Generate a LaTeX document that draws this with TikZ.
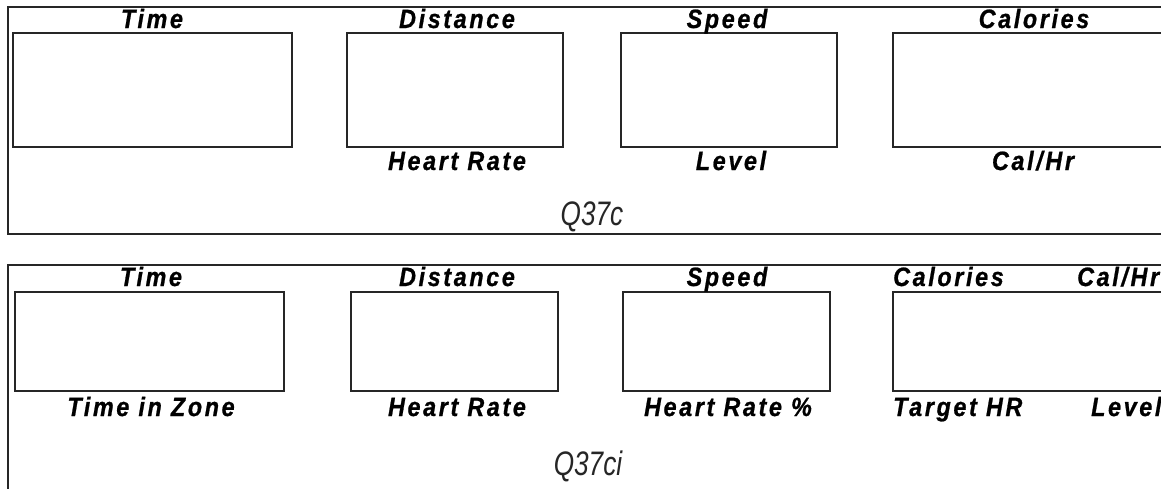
\documentclass[tikz,border=0pt]{standalone}
\usepackage{fontspec}
\setmainfont{Liberation Sans}
\newfontfamily\lblfont[FakeStretch=0.88,LetterSpace=10,FakeBold=0.8]{Liberation Sans Bold Italic}
\newfontfamily\capfont[FakeStretch=0.77]{Liberation Sans Italic}
\begin{document}
\begin{tikzpicture}[x=1pt,y=-1pt,
  frame/.style={line width=1.6pt,draw=black!85},
  dispbox/.style={draw=black!85,line width=1.6pt,rectangle,inner sep=0pt,outer sep=0pt,anchor=north west},
  lbl/.style={inner sep=0pt,anchor=base,font=\lblfont\fontsize{26.5}{30}\selectfont},
  lblw/.style={lbl,anchor=base west},
  capt/.style={inner sep=0pt,anchor=base,font=\capfont\fontsize{34}{38}\selectfont,text=black!85}]
\useasboundingbox (0,0) rectangle (1161,488);
\clip (0,0) rectangle (1161,488);
% ---------- top panel ----------
\coordinate (tTR) at (1175,7);
\coordinate (tTL) at (8,7);
\coordinate (tBL) at (8,234);
\coordinate (tBR) at (1175,234);
\draw[frame] (tTR) -- (tTL) -- (tBL) -- (tBR);
\node[dispbox,minimum width=279pt,minimum height=114pt] (t1) at (13,33) {};
\node[dispbox,minimum width=216pt,minimum height=114pt] (t2) at (347,33) {};
\node[dispbox,minimum width=216pt,minimum height=114pt] (t3) at (621,33) {};
\node[dispbox,minimum width=280pt,minimum height=114pt] (t4) at (893,33) {};
\node[lbl] (tl1) at (152,28) {Time};
\node[lbl] (tl2) at (457,28) {Distance};
\node[lbl] (tl3) at (727,28) {Speed};
\node[lbl] (tl4) at (1034,28) {Calories};
\node[lbl] (tb2) at (457,170) {Heart Rate};
\node[lbl] (tb3) at (731,170) {Level};
\node[lbl] (tb4) at (1033,170) {Cal/Hr};
\node[capt] (tcap) at (592,225) {Q37c};
% ---------- bottom panel ----------
\coordinate (bTR) at (1175,265);
\coordinate (bTL) at (8,265);
\coordinate (bBL) at (8,500);
\draw[frame] (bTR) -- (bTL) -- (bBL);
\node[dispbox,minimum width=269pt,minimum height=99pt] (b1) at (15,292) {};
\node[dispbox,minimum width=207pt,minimum height=99pt] (b2) at (351,292) {};
\node[dispbox,minimum width=207pt,minimum height=99pt] (b3) at (623,292) {};
\node[dispbox,minimum width=280pt,minimum height=99pt] (b4) at (893,292) {};
\node[lbl] (bl1) at (151,286) {Time};
\node[lbl] (bl2) at (457,286) {Distance};
\node[lbl] (bl3) at (727,286) {Speed};
\node[lblw] (bl4) at (893,286) {Calories};
\node[lblw] (bl5) at (1077,286) {Cal/Hr};
\node[lbl] (bb1) at (151,416) {Time in Zone};
\node[lbl] (bb2) at (457,416) {Heart Rate};
\node[lbl] (bb3) at (728,416) {Heart Rate \%};
\node[lblw] (bb4) at (893,416) {Target HR};
\node[lblw] (bb5) at (1091,416) {Level};
\node[capt] (bcap) at (588,475) {Q37ci};
\end{tikzpicture}
\end{document}
